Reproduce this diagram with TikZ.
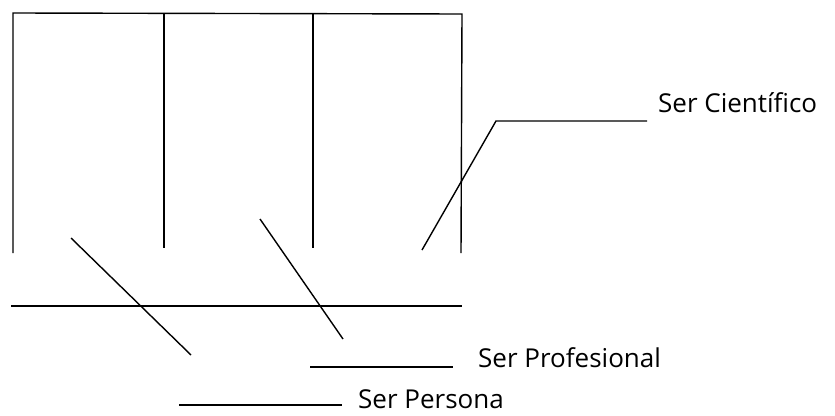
\documentclass[tikz,border=0pt]{standalone}
\usepackage{fontspec}
\setmainfont{Open Sans}
\begin{document}
\begin{tikzpicture}[x=1pt,y=-1pt,
  ln/.style={line width=1.4pt,black},
  lbl/.style={anchor=base west,inner sep=0pt,text depth=0pt,font=\fontsize{26}{30}\selectfont}]
\useasboundingbox (0,0) rectangle (835,415);
% frame
\coordinate (tl) at (13,13);
\coordinate (tr) at (462,14);
\draw[ln] (13,253) -- (tl) -- (tr) -- (461,253);
\draw[ln] (164,13) -- (164,248);
\draw[ln] (313,14) -- (313,248);
% base line
\coordinate (bl) at (11,306);
\coordinate (br) at (462,306);
\draw[ln] (bl) -- (br);
% diagonals
\draw[ln] (71,238) -- (191,355);
\draw[ln] (260,219) -- (343,339);
% labels
\node[lbl] (cien) at (658,112) {Ser Científico};
\node[lbl] (prof) at (478,367) {Ser Profesional};
\node[lbl] (pers) at (358,408.5) {Ser Persona};
% leaders
\coordinate (c1) at (422,250);
\coordinate (c2) at (496,121);
\coordinate (c3) at (647,121);
\draw[ln] (c1) -- (c2) -- (c3);
\coordinate (p1) at (310,367);
\coordinate (p2) at (453,367);
\draw[ln] (p1) -- (p2);
\coordinate (q1) at (179,405);
\coordinate (q2) at (342,405);
\draw[ln] (q1) -- (q2);
\end{tikzpicture}
\end{document}
